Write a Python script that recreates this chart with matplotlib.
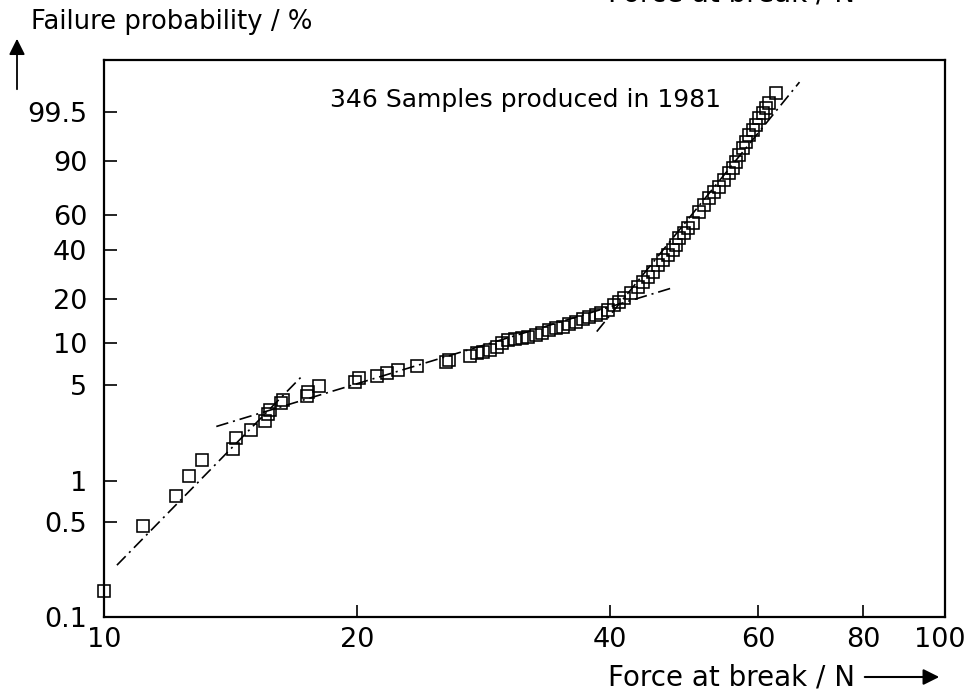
import numpy as np
import matplotlib
matplotlib.use("Agg")
import matplotlib.pyplot as plt
from matplotlib.transforms import ScaledTranslation

# ---- data ----
force = [10.0, 11.13, 12.19, 12.63, 13.09, 14.25, 14.37, 14.94, 15.52, 15.65, 15.74,
         16.22, 16.31, 17.42, 17.47, 18.00, 19.87, 20.10, 21.12, 21.70, 22.37, 23.57,
         25.53, 25.74,
         27.26, 27.79, 28.25, 28.80, 29.36, 29.77, 30.26, 30.85, 31.45, 31.97, 32.59,
         33.22, 33.78, 34.43, 35.10, 35.69, 36.38, 37.09, 37.70, 38.43, 38.96, 39.72,
         40.38,
         40.95, 41.51, 42.32, 43.13, 43.73, 44.34, 44.95, 45.57, 46.20, 46.84, 47.49,
         47.87, 48.28, 48.94, 49.49, 50.17,
         51.01, 51.71, 52.43, 53.15, 53.89, 54.64, 55.40, 56.01, 56.47, 56.94, 57.57,
         58.05, 58.53, 59.18, 59.67, 60.15, 60.81, 61.33, 61.84, 63.03]
failure_pct = [0.155, 0.466, 0.775, 1.085, 1.42, 1.71, 2.06, 2.35, 2.73, 3.07, 3.29,
               3.69, 3.88, 4.21, 4.43, 4.89, 5.23, 5.67, 5.77, 6.16, 6.47, 6.80,
               7.26, 7.50,
               8.13, 8.54, 8.68, 8.96, 9.41, 10.03, 10.53, 10.70, 10.87, 11.05, 11.41,
               11.78, 12.35, 12.75, 12.95, 13.58, 14.01, 14.68, 15.15, 15.62, 16.13, 16.89,
               18.24,
               19.09, 20.29, 21.87, 23.91, 25.72, 27.65, 29.69, 32.75, 35.07, 37.50, 40.03,
               42.69, 46.57, 49.44, 52.41, 55.43,
               62.23, 66.60, 70.91, 74.51, 77.42, 81.29, 84.85, 87.18, 89.70, 92.27, 94.40,
               95.88, 97.25, 97.99, 98.58, 99.17, 99.46, 99.66, 99.79, 99.93]

# fitted straight lines (Weibull fits), endpoints: force, failure %
fit1_force = [10.36, 17.18]
fit1_pct = [0.241, 5.77]
fit2_force = [13.60, 47.49]
fit2_pct = [2.51, 23.56]
fit3_force = [38.54, 67.14]
fit3_pct = [11.96, 99.985]

x_ticks = [10, 20, 40, 60, 80, 100]
x_ticklabels = ["10", "20", "40", "60", "80", "100"]
y_ticks = [0.1, 0.5, 1, 5, 10, 20, 40, 60, 90, 99.5]
y_ticklabels = ["0.1", "0.5", "1", "5", "10", "20", "40", "60", "90", "99.5"]

annotation = "346 Samples produced in 1981"
ylabel = "Failure probability / %"
xlabel = "Force at break / N"

# ---- Weibull probability scale ----
def fwd(p):
    p = np.clip(np.asarray(p, dtype=float), 1e-9, 100 - 1e-9)
    return np.log(-np.log(1 - p / 100.0))

def inv(w):
    w = np.asarray(w, dtype=float)
    return 100.0 * (1 - np.exp(-np.exp(w)))

plt.rcParams['font.family'] = ['DejaVu Sans']
plt.rcParams['lines.scale_dashes'] = False

W, H = 965, 695
fig = plt.figure(figsize=(W / 100, H / 100), dpi=100)
ax = fig.add_axes([104 / W, 1 - 617 / H, (945 - 104) / W, (617 - 60) / H])

ax.set_xscale('log')
ax.set_yscale('function', functions=(fwd, inv))
ax.set_xlim(10, 100)
ax.set_ylim(0.1, 99.99973)

dashdot = (0, (9, 3.5, 1.5, 3.5))
for fx, fp in [(fit1_force, fit1_pct), (fit2_force, fit2_pct), (fit3_force, fit3_pct)]:
    ax.plot(fx, fp, color='black', lw=1.2, linestyle=dashdot, zorder=2)

ax.plot(force, failure_pct, linestyle='none', marker='s', markersize=8.6,
        markerfacecolor='none', markeredgecolor='black', markeredgewidth=1.15,
        zorder=3, clip_on=False)

ax.set_xticks(x_ticks)
ax.set_xticklabels(x_ticklabels)
ax.xaxis.set_minor_locator(matplotlib.ticker.NullLocator())
ax.set_yticks(y_ticks)
ax.set_yticklabels(y_ticklabels)
ax.yaxis.set_minor_locator(matplotlib.ticker.NullLocator())

ax.tick_params(axis='both', direction='in', length=9, width=1.2, labelsize=19.5,
               colors='black')
ax.tick_params(axis='y', pad=12)
ax.tick_params(axis='x', pad=7)
for s in ax.spines.values():
    s.set_linewidth(1.6)

# keep the last x tick label ("100") inside the canvas, as in the reference
last = ax.get_xticklabels()[-1]
last.set_transform(last.get_transform() + ScaledTranslation(-5 / 100, 0, fig.dpi_scale_trans))

ax.text((330 - 104) / 841, (617 - 100) / 557, annotation, transform=ax.transAxes,
        fontsize=18, ha='left', va='center')

# axis titles with arrows
fig.text(31 / W, 1 - 22 / H, ylabel, fontsize=18.6, ha='left', va='center')
fig.text(855 / W, 1 - 677 / H, xlabel, fontsize=20, ha='right', va='center')
fig.add_artist(matplotlib.patches.FancyArrowPatch(
    (17 / W, 1 - 92 / H), (17 / W, 1 - 36 / H), transform=fig.transFigure,
    arrowstyle='-|>', mutation_scale=24, lw=1.3, color='black'))
fig.add_artist(matplotlib.patches.FancyArrowPatch(
    (862 / W, 1 - 677 / H), (942 / W, 1 - 677 / H), transform=fig.transFigure,
    arrowstyle='-|>', mutation_scale=24, lw=1.5, color='black'))

# partially cut-off label from the previous figure at the top edge
fig.text(855 / W, 1 - 1 / H, xlabel, fontsize=20, ha='right', va='baseline')

fig.savefig('out.png', dpi=100, facecolor='white')
